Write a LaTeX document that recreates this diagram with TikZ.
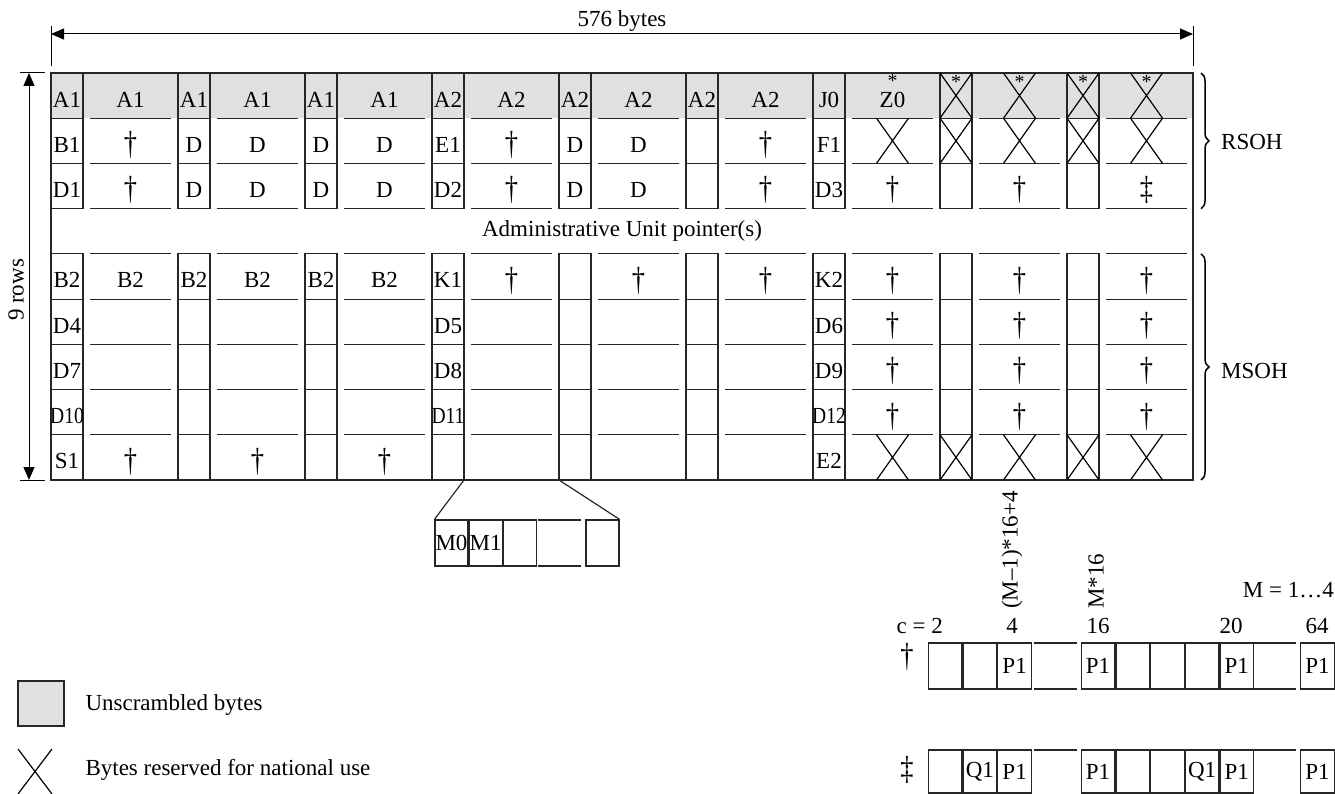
\documentclass[tikz,border=0pt]{standalone}
\usepackage{fontspec}
\setmainfont{Liberation Serif}
\usetikzlibrary{arrows.meta,positioning,decorations.pathreplacing}
\newcommand{\bytesize}{\fontsize{23}{27}\selectfont}
\newcommand{\squeeze}[1]{\scalebox{0.85}[1]{#1}}
\newcommand{\dg}{\raisebox{-2.5pt}{\scalebox{1.15}[1.45]{\textdagger}}}
\newcommand{\ddg}{\raisebox{-2.5pt}{\scalebox{1.15}[1.45]{\textdaggerdbl}}}
\tikzset{
	cellline/.style={line width=1.2pt, draw=black!85},
	blab/.style={font=\bytesize, inner sep=0pt, anchor=base},
	bytebox/.style={rectangle, draw=black!85, line width=1.2pt, minimum width=33.5pt,
		minimum height=46pt, inner sep=0pt, font=\bytesize},
	dimarr/.style={{Triangle[length=13pt,width=11pt]}-{Triangle[length=13pt,width=11pt]}, line width=1pt},
	ohbrace/.style={decorate, decoration={brace, amplitude=8pt}, line width=1.5pt},
	natx/.pic={\draw[line width=1.2pt] (-16,-22.6) -- (16,22.6) (-16,22.6) -- (16,-22.6);}
}

\begin{document}
\begin{tikzpicture}[x=1pt, y=-1pt]
\useasboundingbox (0,0) rectangle (1335,794);

% STM-N frame, 9 rows
\fill[black!12] (51,73) rectangle (1193,118.2);
\foreach \k in {0,...,8}
	\foreach \r in {0,1,2,4,5,6,7,8}{
		\draw[cellline] (51+127*\k,73+45.222*\r) rectangle ++(32,45.222);
		\draw[cellline] (90+127*\k,73+45.222*\r) -- ++(81,0) ++(-81,45.222) -- ++(81,0);
	}
\draw[cellline] (51,73) rectangle (1193,480);

% row 1
\foreach \k/\t in {0/A1,1/A1,2/A1,3/A2,4/A2,5/A2,6/J0}
	\node[blab] (na\k) at (67+127*\k,108) {\t};
\foreach \k/\t in {0/A1,1/A1,2/A1,3/A2,4/A2,5/A2}
	\node[blab] (wa\k) at (130.5+127*\k,108) {\t};
\node[blab] (wa6) at (892.5,108)
	{\begin{tabular}[b]{@{}c@{}}\raisebox{-7pt}{\fontsize{20}{20}\selectfont *}\\Z0\end{tabular}};
\foreach \x [count=\i] in {956,1019.5,1083,1146.5}
	\node[blab, font=\fontsize{20}{24}\selectfont] (st\i) at (\x,89) {*};
% row 2
\foreach \k/\t in {0/B1,1/D,2/D,3/E1,4/D,6/F1}
	\node[blab] (nb\k) at (67+127*\k,152.2) {\t};
\foreach \k/\t in {0/\dg,1/D,2/D,3/\dg,4/D,5/\dg}
	\node[blab] (wb\k) at (130.5+127*\k,152.2) {\t};
% row 3
\foreach \k/\t in {0/D1,1/D,2/D,3/D2,4/D,6/D3}
	\node[blab] (nc\k) at (67+127*\k,197.4) {\t};
\foreach \k/\t in {0/\dg,1/D,2/D,3/\dg,4/D,5/\dg,6/\dg,7/\dg,8/\ddg}
	\node[blab] (wc\k) at (130.5+127*\k,197.4) {\t};
% row 4
\node[font=\bytesize] (aup) at (622,231.3) {Administrative Unit pointer(s)};
% row 5
\foreach \k/\t in {0/B2,1/B2,2/B2,3/K1,6/K2}
	\node[blab] (ne\k) at (67+127*\k,287.9) {\t};
\foreach \k/\t in {0/B2,1/B2,2/B2,3/\dg,4/\dg,5/\dg,6/\dg,7/\dg,8/\dg}
	\node[blab] (we\k) at (130.5+127*\k,287.9) {\t};
% rows 6 to 8
\foreach \k/\t in {0/D4,3/D5,6/D6}
	\node[blab] (nf\k) at (67+127*\k,333.1) {\t};
\foreach \k/\t in {0/D7,3/D8,6/D9}
	\node[blab] (ng\k) at (67+127*\k,378.3) {\t};
\foreach \k/\t in {0/\squeeze{D10},3/\squeeze{D11},6/\squeeze{D12}}
	\node[blab] (nh\k) at (67+127*\k,423.6) {\t};
\foreach \k in {6,7,8}{
	\node[blab] (wf\k) at (130.5+127*\k,333.1) {\dg};
	\node[blab] (wg\k) at (130.5+127*\k,378.3) {\dg};
	\node[blab] (wh\k) at (130.5+127*\k,423.6) {\dg};
}
% row 9
\foreach \k/\t in {0/S1,6/E2}
	\node[blab] (ni\k) at (67+127*\k,468.8) {\t};
\foreach \k in {0,1,2}
	\node[blab] (wi\k) at (130.5+127*\k,468.8) {\dg};

% national use bytes
\foreach \x in {956,1019.5,1083,1146.5}
	\pic at (\x,95.6) {natx};
\foreach \x in {892.5,956,1019.5,1083,1146.5}{
	\pic at (\x,140.8) {natx};
	\pic at (\x,457.4) {natx};
}

% dimensions
\coordinate (wl) at (51,34);
\coordinate (wr) at (1193,34);
\draw[line width=1pt] (51,26) -- (51,66) (1193,26) -- (1193,66);
\draw[dimarr] (wl) -- (wr);
\node[font=\bytesize] (width) at (622,21) {576 bytes};
\coordinate (ht) at (29,73);
\coordinate (hb) at (29,480);
\draw[line width=1pt] (20,73) -- (45,73) (20,480) -- (45,480);
\draw[dimarr] (ht) -- (hb);
\node[font=\bytesize, rotate=90] (rows) at (16,290) {9 rows};

% braces
\coordinate (rs1) at (1201,73);
\coordinate (rs2) at (1201,208.7);
\coordinate (ms1) at (1201,253.9);
\coordinate (ms2) at (1201,480);
\draw[ohbrace] (rs1) -- (rs2);
\draw[ohbrace] (ms1) -- (ms2);
\node[font=\bytesize, anchor=west, inner sep=0pt] (rsoh) at (1221,142) {RSOH};
\node[font=\bytesize, anchor=west, inner sep=0pt] (msoh) at (1221,371) {MSOH};

% M bytes of the S1 column group
\coordinate (s3) at (464,480);
\coordinate (s4) at (559,480);
\node[bytebox, minimum width=33pt] (m0) at (451.5,543) {M0};
\node[bytebox, minimum width=33pt, right=0pt of m0] (m1) {M1};
\node[bytebox, minimum width=33pt, right=0pt of m1] (m2) {};
\node[bytebox, minimum width=33pt] (mn) at (602.5,543) {};
\draw[cellline] (538,520) -- (581,520) (538,566) -- (581,566);
\draw[cellline] (s3) -- (m0.north west);
\draw[cellline] (s4) -- (mn.north east);

% P1 / Q1 positions
\node[blab, anchor=base east] (cc) at (943,633) {c = 2};
\node[blab] (c4) at (1012,633) {4};
\node[blab] (c16) at (1098,633) {16};
\node[blab] (c20) at (1231,633) {20};
\node[blab] (c64) at (1317,633) {64};
\node[blab, anchor=base east] (mrng) at (1334,597) {M = 1…4};
\node[font=\bytesize, rotate=90, anchor=west, inner sep=0pt] (pos1) at (1012,609) {(M–1)*16+4};
\node[font=\bytesize, rotate=90, anchor=west, inner sep=0pt] (pos2) at (1096,609) {M*16};

\node[font=\bytesize] (dgp) at (907,657) {\dg};
\node[bytebox] (pa1) at (945.2,666) {};
\node[bytebox, right=0pt of pa1] (pa2) {};
\node[bytebox, right=0pt of pa2] (pa3) {P1};
\node[bytebox] (pa5) at (1098,666) {P1};
\node[bytebox, right=0pt of pa5] (pa6) {};
\node[bytebox, right=0pt of pa6] (pa7) {};
\node[bytebox, right=0pt of pa7] (pa8) {};
\node[bytebox, right=0pt of pa8] (pa9) {P1};
\node[bytebox] (pa11) at (1317.5,666) {P1};
\draw[cellline] (1034,643) -- (1077,643) (1034,689) -- (1077,689);
\draw[cellline] (1252,643) -- (1296,643) (1252,689) -- (1296,689);

\node[font=\bytesize] (ddgq) at (907,770) {\ddg};
\node[bytebox, minimum height=43pt] (qa1) at (945.2,771.5) {};
\node[bytebox, minimum height=43pt, right=0pt of qa1] (qa2) {Q1};
\node[bytebox, minimum height=43pt, right=0pt of qa2] (qa3) {P1};
\node[bytebox, minimum height=43pt] (qa5) at (1098,771.5) {P1};
\node[bytebox, minimum height=43pt, right=0pt of qa5] (qa6) {};
\node[bytebox, minimum height=43pt, right=0pt of qa6] (qa7) {};
\node[bytebox, minimum height=43pt, right=0pt of qa7] (qa8) {Q1};
\node[bytebox, minimum height=43pt, right=0pt of qa8] (qa9) {P1};
\node[bytebox, minimum height=43pt] (qa11) at (1317.5,771.5) {P1};
\draw[cellline] (1034,750) -- (1077,750) (1252,750) -- (1296,750);

% legend
\node[draw=black!85, line width=1.2pt, fill=black!12, minimum width=46pt, minimum height=45pt] (lgu) at (41,703.5) {};
\node[font=\bytesize, anchor=west] (lgut) at (82,705) {Unscrambled bytes};
\draw[line width=1.2pt] (18,749) -- (52,794) (18,794) -- (52,749);
\node[font=\bytesize, anchor=west] (lgxt) at (82,770) {Bytes reserved for national use};
\end{tikzpicture}
\end{document}
